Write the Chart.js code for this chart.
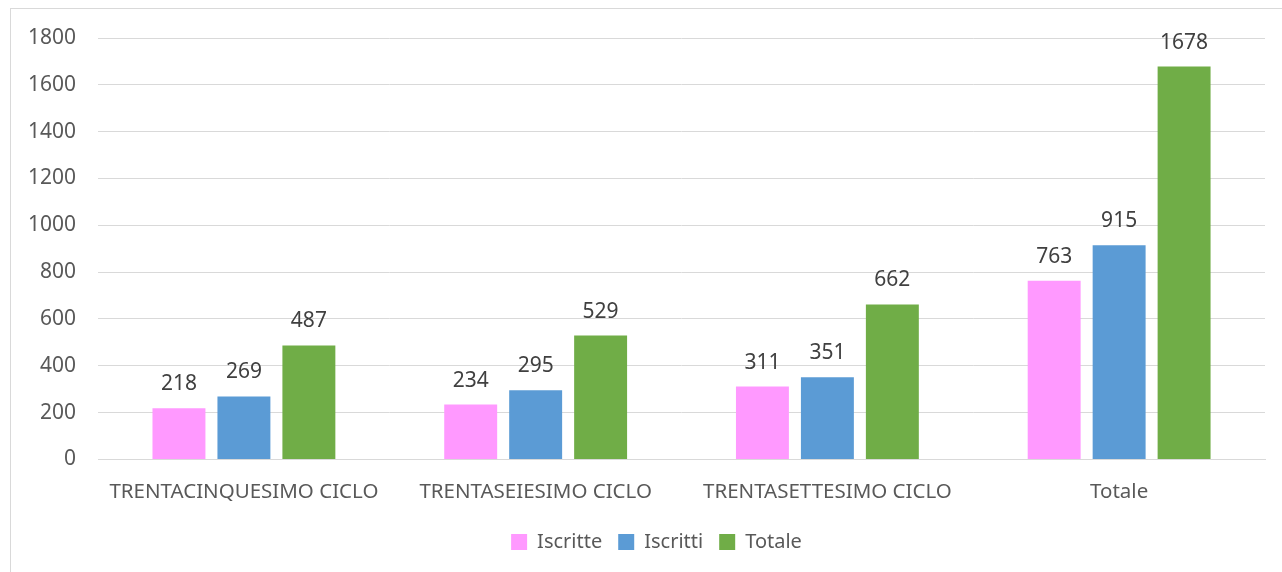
<!DOCTYPE html>
<html>
<head>
<meta charset="utf-8">
<script src="https://cdn.jsdelivr.net/npm/chart.js@4/dist/chart.umd.min.js"></script>
<style>
  html, body { margin: 0; padding: 0; background: #fff; }
  #wrap { width: 1282px; height: 572px; }
</style>
</head>
<body>
<div id="wrap"><canvas id="chart" width="1282" height="572"></canvas></div>
<script>
// cicli e serie
const cicli = ["TRENTACINQUESIMO CICLO", "TRENTASEIESIMO CICLO", "TRENTASETTESIMO CICLO", "Totale"];
const iscritte = [218, 234, 311, 763];
const iscritti = [269, 295, 351, 915];
const totale = [487, 529, 662, 1678];

const FONT = "'Noto Sans', sans-serif";

// cornice grigia attorno al grafico; la legenda sta al centro della cornice
const cornice = {
  id: "cornice",
  afterLayout(chart) {
    chart.legend.left += 21;
    chart.legend.right += 21;
  },
  beforeDraw(chart) {
    const c = chart.ctx;
    c.save();
    c.strokeStyle = "#d9d9d9";
    c.lineWidth = 1;
    c.strokeRect(10.5, 8.5, 1300, 600);
    c.restore();
  }
};

// valori sopra le barre
const etichette = {
  id: "etichette",
  afterDatasetsDraw(chart) {
    const c = chart.ctx;
    c.save();
    c.font = "21px " + FONT;
    c.fillStyle = "#404040";
    c.textAlign = "center";
    c.textBaseline = "middle";
    chart.data.datasets.forEach((ds, i) => {
      chart.getDatasetMeta(i).data.forEach((bar, j) => {
        c.fillText(ds.data[j], bar.x, bar.y - 24);
      });
    });
    c.restore();
  }
};

new Chart(document.getElementById("chart").getContext("2d"), {
  type: "bar",
  data: {
    labels: cicli,
    datasets: [
      { label: "Iscritte", data: iscritte, backgroundColor: "#ff99ff" },
      { label: "Iscritti", data: iscritti, backgroundColor: "#5b9bd5" },
      { label: "Totale", data: totale, backgroundColor: "#70ad47" }
    ]
  },
  options: {
    responsive: false,
    animation: false,
    layout: { padding: { left: 6, right: 17, top: 38, bottom: 10 } },
    datasets: { bar: { categoryPercentage: 0.668, barPercentage: 0.815 } },
    scales: {
      x: {
        grid: { display: false },
        border: { color: "#d9d9d9" },
        ticks: { color: "#595959", font: { family: FONT, size: 20.5 }, padding: 12 }
      },
      y: {
        min: 0,
        max: 1800,
        ticks: {
          stepSize: 200,
          color: "#595959",
          font: { family: FONT, size: 21 },
          padding: 22,
          callback: (v) => String(v)
        },
        grid: { color: "#d9d9d9", drawTicks: false },
        border: { display: false }
      }
    },
    plugins: {
      legend: {
        position: "bottom",
        labels: {
          color: "#595959",
          font: { family: FONT, size: 20 },
          boxWidth: 16,
          boxHeight: 16,
          padding: 16
        }
      },
      tooltip: { enabled: false }
    }
  },
  plugins: [cornice, etichette]
});
</script>
</body>
</html>
